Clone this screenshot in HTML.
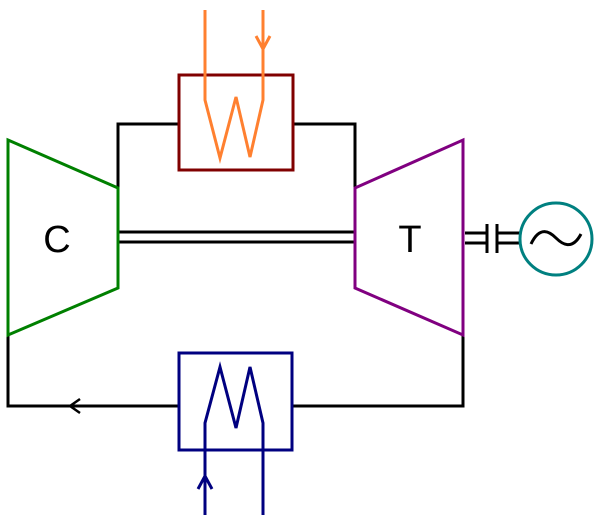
<!DOCTYPE html>
<html><head><style>body{margin:0;background:#fff}</style></head><body>
<svg width="600" height="525" viewBox="0 0 600 525" xmlns="http://www.w3.org/2000/svg">
<g fill="none" stroke-width="3">
<polyline points="118,188 118,124 179,124" stroke="#000"/>
<polyline points="293,124 355,124 355,188" stroke="#000"/>
<polyline points="8,335 8,406 179,406" stroke="#000"/>
<polyline points="292,406 463,406 463,335" stroke="#000"/>
<polyline points="80,399 70,406 80,413" stroke="#000" stroke-width="2.5"/>
<line x1="118" y1="232" x2="355" y2="232" stroke="#000"/>
<line x1="118" y1="242" x2="355" y2="242" stroke="#000"/>
<polygon points="8,140 118,188 118,288 8,335" stroke="#008000"/>
<polygon points="355,188 463,140 463,335 355,288" stroke="#800080"/>
<rect x="179" y="75" width="114" height="95" stroke="#800000"/>
<polyline points="205,10 205,100 220,158 236,97 250,157 263,100 263,10" stroke="#ff8030"/>
<polyline points="256,36 263,49 270,36" stroke="#ff8030"/>
<rect x="179" y="353" width="113" height="97" stroke="#000080"/>
<polyline points="205,515 205,423 220,367 236,428 250,367 263,423 263,515" stroke="#000080"/>
<polyline points="198,489 205,476 212,489" stroke="#000080"/>
<line x1="465" y1="233" x2="487" y2="233" stroke="#000"/>
<line x1="465" y1="243" x2="487" y2="243" stroke="#000"/>
<line x1="487" y1="224" x2="487" y2="253" stroke="#000"/>
<line x1="497" y1="224" x2="497" y2="253" stroke="#000"/>
<line x1="497" y1="233" x2="520" y2="233" stroke="#000"/>
<line x1="497" y1="243" x2="520" y2="243" stroke="#000"/>
<circle cx="556" cy="239" r="36" stroke="#008080"/>
<path d="M531,244 C540,225 550,232 556,238 C562,244 572,251 581,234" stroke="#000"/>
</g>
<text x="57" y="252" font-family="Liberation Sans, sans-serif" font-size="38" text-anchor="middle">C</text>
<text x="410" y="252" font-family="Liberation Sans, sans-serif" font-size="38" text-anchor="middle">T</text>
</svg>
</body></html>
